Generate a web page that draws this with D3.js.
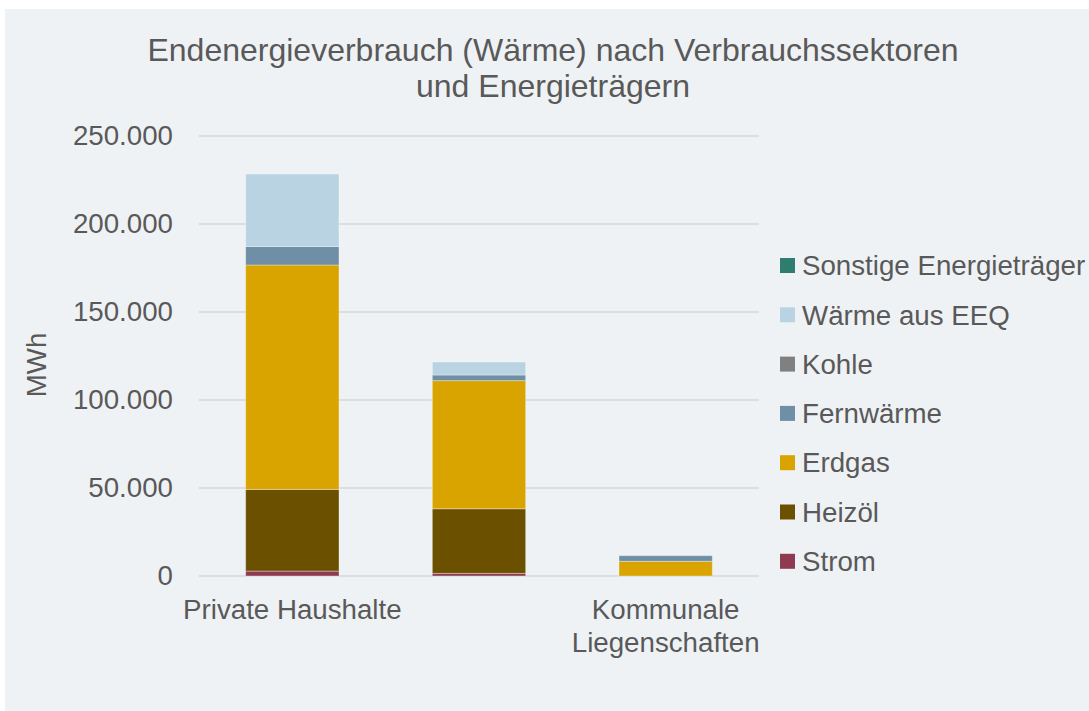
<!DOCTYPE html>
<html>
<head>
<meta charset="utf-8">
<script src="https://cdn.jsdelivr.net/npm/d3@7"></script>
<style>
  html, body { margin: 0; padding: 0; background: #ffffff; }
  svg text { font-family: "Liberation Sans", Arial, sans-serif; fill: #595959; }
</style>
</head>
<body>
<svg id="chart" width="1089" height="711"></svg>
<script>
// categories (middle label is not shown in the original)
const categories = ["Private Haushalte", "", "Kommunale Liegenschaften"];

// series in stacking order, bottom to top
const seriesNames = ["Strom", "Heizöl", "Erdgas", "Fernwärme", "Kohle", "Wärme aus EEQ", "Sonstige Energieträger"];
const seriesColors = ["#8E3B52", "#6B5000", "#D9A300", "#6E8FA6", "#808080", "#BAD3E3", "#2E7D6F"];

const strom     = [2800, 1500, 0];
const heizoel   = [46400, 36700, 0];
const erdgas    = [127500, 72800, 8350];
const fernwaerme= [10500, 3200, 3200];
const kohle     = [0, 0, 0];
const eeq       = [41200, 7400, 0];
const sonstige  = [0, 0, 0];

const yTicks = [0, 50000, 100000, 150000, 200000, 250000];

const valuesBySeries = [strom, heizoel, erdgas, fernwaerme, kohle, eeq, sonstige];
const rows = categories.map((c, i) => {
    const r = {idx: i, cat: c};
    seriesNames.forEach((s, j) => { r[s] = valuesBySeries[j][i]; });
    return r;
});

const fs = 27.7;
const svg = d3.select("#chart");

// background panel
svg.append("rect")
    .attr("x", 5).attr("y", 9)
    .attr("width", 1084).attr("height", 702)
    .attr("fill", "#EFF2F5");

const plot = {left: 199, right: 759, top: 136, bottom: 576};

const x = d3.scaleBand()
    .domain(d3.range(categories.length))
    .range([plot.left, plot.right])
    .paddingInner(0.5)
    .paddingOuter(0.25);

const y = d3.scaleLinear()
    .domain([0, 250000])
    .range([plot.bottom, plot.top]);

// gridlines
svg.append("g")
    .selectAll("line")
    .data(yTicks)
    .join("line")
    .attr("x1", plot.left).attr("x2", plot.right)
    .attr("y1", d => y(d)).attr("y2", d => y(d))
    .attr("stroke", "#DCDDDF")
    .attr("stroke-width", 1.8);

// y axis labels
const fmt = d => d === 0 ? "0" : d3.format(",")(d).replace(/,/g, ".");
const yAxis = d3.axisLeft(y).tickValues(yTicks).tickFormat(fmt).tickSize(0).tickPadding(0);
svg.append("g")
    .attr("transform", "translate(173,0)")
    .call(yAxis)
    .call(g => g.select(".domain").remove())
    .call(g => g.selectAll("text")
        .attr("font-size", fs)
        .attr("font-family", "Liberation Sans, Arial, sans-serif")
        .attr("fill", "#595959"));

// stacked bars
const stack = d3.stack().keys(seriesNames);
const layers = stack(rows);

svg.append("g")
    .selectAll("g")
    .data(layers)
    .join("g")
    .attr("fill", (d, i) => seriesColors[i])
    .selectAll("rect")
    .data(d => d.filter(p => p[1] - p[0] > 0))
    .join("rect")
    .attr("x", d => x(d.data.idx))
    .attr("width", x.bandwidth())
    .attr("y", d => y(d[1]))
    .attr("height", d => y(d[0]) - y(d[1]))
    .attr("stroke", "rgba(255,255,255,0.35)")
    .attr("stroke-width", 1);

// category labels
const xl = svg.append("g");
categories.forEach((c, i) => {
    const words = c.split(" ");
    const lines = (words.length > 1 && c.length > 18) ? words : [c];
    const t = xl.append("text")
        .attr("text-anchor", "middle")
        .attr("font-size", fs)
        .attr("x", x(i) + x.bandwidth() / 2)
        .attr("y", 619);
    lines.forEach((ln, k) => {
        t.append("tspan")
            .attr("x", x(i) + x.bandwidth() / 2)
            .attr("dy", k === 0 ? 0 : 33)
            .text(ln);
    });
});

// axis title
svg.append("text")
    .attr("transform", "translate(46,365) rotate(-90)")
    .attr("text-anchor", "middle")
    .attr("font-size", fs)
    .text("MWh");

// chart title
svg.append("text")
    .attr("x", 553).attr("y", 61)
    .attr("text-anchor", "middle")
    .attr("font-size", 32)
    .text("Endenergieverbrauch (Wärme) nach Verbrauchssektoren");
svg.append("text")
    .attr("x", 553).attr("y", 97)
    .attr("text-anchor", "middle")
    .attr("font-size", 32)
    .text("und Energieträgern");

// legend, reversed order
const legendItems = seriesNames.map((s, i) => ({name: s, color: seriesColors[i]})).reverse();
const legend = svg.append("g")
    .selectAll("g")
    .data(legendItems)
    .join("g")
    .attr("transform", (d, i) => `translate(780,${265.5 + i * 49.3})`);
legend.append("rect")
    .attr("x", 0).attr("y", -7.5)
    .attr("width", 15).attr("height", 15)
    .attr("fill", d => d.color);
legend.append("text")
    .attr("x", 22).attr("y", 0)
    .attr("dy", "0.35em")
    .attr("font-size", fs)
    .text(d => d.name);
</script>
</body>
</html>
